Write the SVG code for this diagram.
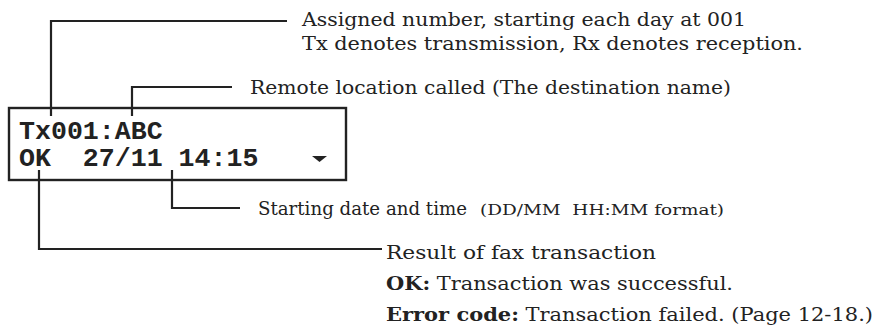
<svg xmlns="http://www.w3.org/2000/svg" width="883" height="333" viewBox="0 0 883 333">
<style>
.lcd{font-family:"Liberation Mono","Courier New",monospace;font-weight:bold;font-size:26.6px;fill:#222}
.lbl{font-family:"DejaVu Serif","Liberation Serif",serif;font-size:19px;fill:#222}
.sm{font-size:14.5px}
.b{font-weight:bold}
.ln{fill:none;stroke:#222;stroke-width:2.2}
</style>
<rect width="883" height="333" fill="#fff"/>
<g id="display">
<rect x="9" y="108" width="337" height="72" fill="#fff" stroke="#222" stroke-width="2.4"/>
<text class="lcd" x="19" y="139">Tx001:ABC</text>
<text class="lcd" x="19" y="166" xml:space="preserve">OK  27/11 14:15</text>
<polygon points="312,156 327,156 319.5,162" fill="#222"/>
</g>
<g id="connectors">
<polyline class="ln" points="51,116 51,21 287,21"/>
<polyline class="ln" points="132,116 132,87 232,87"/>
<polyline class="ln" points="172,170 172,208 240,208"/>
<polyline class="ln" points="39,170 39,249 382,249"/>
</g>
<g id="label-number">
<text class="lbl" x="302" y="26" textLength="444" lengthAdjust="spacingAndGlyphs">Assigned number, starting each day at 001</text>
<text class="lbl" x="302" y="50" textLength="501" lengthAdjust="spacingAndGlyphs">Tx denotes transmission, Rx denotes reception.</text>
</g>
<g id="label-remote">
<text class="lbl" x="250" y="94" textLength="481" lengthAdjust="spacingAndGlyphs">Remote location called (The destination name)</text>
</g>
<g id="label-date">
<text class="lbl" x="258" y="215" textLength="209" lengthAdjust="spacingAndGlyphs">Starting date and time</text>
<text class="lbl sm" x="480" y="215" textLength="244" lengthAdjust="spacingAndGlyphs" xml:space="preserve">(DD/MM  HH:MM format)</text>
</g>
<g id="label-result">
<text class="lbl" x="386" y="259" textLength="270" lengthAdjust="spacingAndGlyphs">Result of fax transaction</text>
<text class="lbl" x="386" y="290" textLength="347" lengthAdjust="spacingAndGlyphs"><tspan class="b">OK:</tspan> Transaction was successful.</text>
<text class="lbl" x="386" y="321" textLength="487" lengthAdjust="spacingAndGlyphs"><tspan class="b">Error code:</tspan> Transaction failed. (Page 12-18.)</text>
</g>
</svg>
